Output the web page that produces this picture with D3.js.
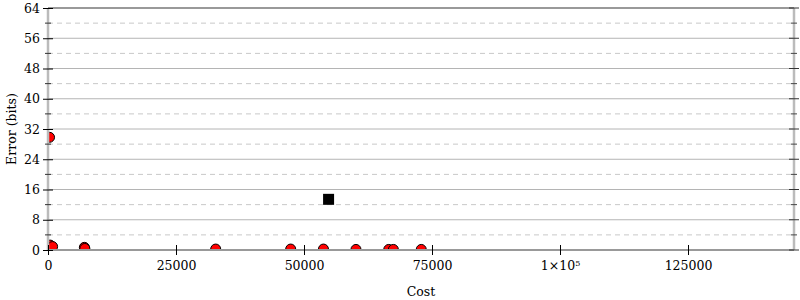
<!DOCTYPE html>
<html><head><meta charset="utf-8">
<script src="https://cdn.jsdelivr.net/npm/d3@7"></script>
<style>body{margin:0;background:#fff}svg{display:block}text{font-family:"DejaVu Serif",serif;font-size:12.5px;fill:#000}</style>
</head><body><svg id="c" width="800" height="300"></svg>
<script>
const circleCost = [300, 400, 900, 7100, 7200, 32750, 47400, 53800, 60150, 66550, 67450, 72900];
const circleError = [29.8, 1.3, 0.9, 0.7, 0.4, 0.25, 0.25, 0.25, 0.15, 0.15, 0.15, 0.15];
const squareCost = [54800];
const squareError = [13.4];
const xTicks = [0, 25000, 50000, 75000, 100000, 125000];
const yTicks = [0, 8, 16, 24, 32, 40, 48, 56, 64];
const yMinor = [4, 12, 20, 28, 36, 44, 52, 60];
const xLabel = "Cost", yLabel = "Error (bits)";

const svg = d3.select("#c");
const L = 48, R = 794, T = 8, B = 250;
const x = d3.scaleLinear().domain([0, 145700]).range([L, R]);
const y = d3.scaleLinear().domain([0, 64]).range([B, T]);

svg.append("defs").append("clipPath").attr("id", "clip")
  .append("rect").attr("x", L).attr("y", T).attr("width", R - L).attr("height", B - T);

// grid
svg.append("g").selectAll("line").data(yMinor).join("line")
  .attr("x1", L).attr("x2", R).attr("y1", d => y(d)).attr("y2", d => y(d))
  .attr("stroke", "#c8c8c8").attr("stroke-dasharray", "5,4");
svg.append("g").selectAll("line").data(yTicks.filter(d => d > 0 && d < 64)).join("line")
  .attr("x1", L).attr("x2", R).attr("y1", d => y(d)).attr("y2", d => y(d))
  .attr("stroke", "#b4b4b4");

// points
const pts = svg.append("g").attr("clip-path", "url(#clip)");
pts.selectAll("circle").data(circleCost.map((c, i) => [c, circleError[i]])).join("circle")
  .attr("cx", d => x(d[0])).attr("cy", d => y(d[1])).attr("r", 5)
  .attr("fill", "#f00").attr("stroke", "#000").attr("stroke-width", 1);
pts.selectAll("rect").data(squareCost.map((c, i) => [c, squareError[i]])).join("rect")
  .attr("x", d => x(d[0]) - 5.5).attr("y", d => y(d[1]) - 5.5).attr("width", 11).attr("height", 11)
  .attr("fill", "#000");

// frame
svg.append("line").attr("x1", L).attr("x2", L).attr("y1", T).attr("y2", B).attr("stroke", "#bbb").attr("stroke-width", 2.5);
svg.append("line").attr("x1", R).attr("x2", R).attr("y1", T).attr("y2", B).attr("stroke", "#bbb").attr("stroke-width", 2.5);
svg.append("line").attr("x1", L).attr("x2", R).attr("y1", B).attr("y2", B).attr("stroke", "#999").attr("stroke-width", 2);
svg.append("line").attr("x1", L).attr("x2", R).attr("y1", T).attr("y2", T).attr("stroke", "#999").attr("stroke-width", 2);

// axes
const fmt = d => d === 100000 ? "1×10" : String(d);
const xAxis = d3.axisBottom(x).tickValues(xTicks).tickSize(0).tickPadding(0).tickFormat(fmt);
const gx = svg.append("g").attr("transform", `translate(0,${B})`).call(xAxis);
gx.attr("font-family", null).attr("font-size", null);
gx.select(".domain").remove();
gx.selectAll(".tick text").attr("y", 19.5).attr("dy", null)
  .each(function(d){ if (d === 100000) d3.select(this).append("tspan").text("5").attr("dy", -4).style("font-size", "8px"); });
gx.selectAll(".tick").append("line").attr("y1", -5).attr("y2", 5).attr("stroke", "#000");

const yAxis = d3.axisLeft(y).tickValues(yTicks).tickSize(0).tickPadding(0);
const gy = svg.append("g").attr("transform", `translate(${L},0)`).call(yAxis);
gy.attr("font-family", null).attr("font-size", null);
gy.select(".domain").remove();
gy.selectAll(".tick text").attr("x", -8);
gy.selectAll(".tick").append("line").attr("x1", -5).attr("x2", 5).attr("stroke", "#000");
svg.append("g").selectAll("line").data(yMinor).join("line")
  .attr("x1", L - 3).attr("x2", L + 3).attr("y1", d => y(d)).attr("y2", d => y(d)).attr("stroke", "#333");

// right ticks
svg.append("g").selectAll("line").data(yTicks).join("line")
  .attr("x1", R - 5).attr("x2", R + 5).attr("y1", d => y(d)).attr("y2", d => y(d)).attr("stroke", "#333");
svg.append("g").selectAll("line").data(yMinor).join("line")
  .attr("x1", R - 3).attr("x2", R + 3).attr("y1", d => y(d)).attr("y2", d => y(d)).attr("stroke", "#444");

// labels
svg.append("text").attr("x", (L + R) / 2).attr("y", 296).attr("text-anchor", "middle").text(xLabel);
svg.append("text").attr("transform", `translate(16,${(T + B) / 2}) rotate(-90)`).attr("text-anchor", "middle").text(yLabel);
</script></body></html>
